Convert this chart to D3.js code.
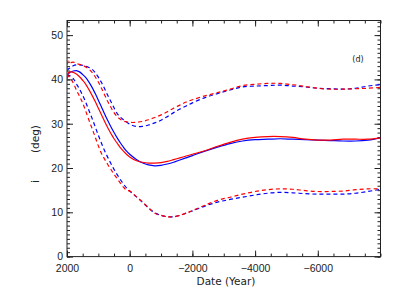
<!DOCTYPE html>
<html lang="en">
<head>
<meta charset="UTF-8">
<title>Inclination vs Date</title>
<script src="https://d3js.org/d3.v7.min.js"></script>
<style>
    body { margin: 0; background: #fff; }
    svg { display: block; font-family: "DejaVu Sans", Verdana, sans-serif; }
    .axis text { font-size: 10.5px; fill: #222; }
    .axis line, .axis path { stroke: #222; }
</style>
</head>
<body>
<div id="chart"></div>
<script>
    // Years (x) shared by all curves
    const years = [2000, 1960, 1900, 1800, 1700, 1600, 1500, 1400, 1300, 1200, 1100, 1000, 900, 800, 700, 600, 500, 400, 300, 200, 100,
        0, -200, -400, -600, -800, -1000, -1200, -1400, -1600, -1800, -2000, -2400, -2800, -3200, -3600, -4000, -4400, -4800,
        -5200, -5600, -6000, -6400, -6800, -7200, -7600, -8000];

    // upper dashed (red / blue)
    const upperRed = [40.2, 44.2, 43.8, 43.9, 43.6, 43.4, 43.2, 42.8, 42.3, 41.6, 40.6, 39.4, 38.0, 36.5, 35.0, 33.7, 32.5, 31.6, 31.0, 30.6, 30.4,
        30.3, 30.3, 30.5, 30.9, 31.4, 32.0, 32.7, 33.5, 34.2, 34.9, 35.4, 36.3, 37.0, 37.8, 38.6, 38.9, 39.1, 39.1,
        38.8, 38.4, 38.0, 37.8, 37.8, 37.9, 38.0, 38.2];
    const upperBlue = [42.0, 42.3, 42.6, 43.1, 43.3, 43.3, 43.2, 43.0, 42.7, 42.3, 41.5, 40.5, 39.3, 37.9, 36.4, 35.0, 33.6, 32.3, 31.5, 30.9, 30.4,
        29.9, 29.4, 29.4, 29.7, 30.2, 30.8, 31.6, 32.5, 33.3, 34.0, 34.7, 35.9, 36.8, 37.6, 38.3, 38.5, 38.6, 38.7,
        38.5, 38.3, 38.0, 37.9, 37.8, 38.0, 38.5, 38.8];

    // middle solid (red / blue)
    const midRed = [39.8, 41.5, 41.7, 41.6, 41.2, 40.6, 39.8, 38.9, 37.7, 36.4, 35.0, 33.5, 32.0, 30.5, 29.1, 27.8, 26.6, 25.6, 24.6, 23.8, 23.1,
        22.5, 21.7, 21.3, 21.1, 21.1, 21.2, 21.5, 21.9, 22.3, 22.7, 23.1, 23.9, 24.9, 25.8, 26.5, 26.9, 27.1, 27.1,
        26.9, 26.5, 26.3, 26.3, 26.5, 26.5, 26.5, 26.8];
    const midBlue = [40.8, 41.2, 41.6, 41.9, 42.0, 41.7, 41.1, 40.4, 39.4, 38.2, 36.8, 35.3, 33.8, 32.2, 30.7, 29.3, 28.0, 26.8, 25.7, 24.7, 23.8,
        23.1, 22.0, 21.2, 20.7, 20.5, 20.6, 20.9, 21.3, 21.8, 22.3, 22.8, 23.8, 24.7, 25.5, 26.1, 26.4, 26.5, 26.6,
        26.5, 26.4, 26.3, 26.2, 26.1, 26.1, 26.3, 26.8];

    // lower dashed (red / blue)
    const lowerRed = [41.2, 40.8, 40.3, 39.2, 37.6, 36.2, 34.7, 32.8, 30.8, 28.9, 27.0, 25.0, 23.3, 22.0, 20.8, 19.7, 18.6, 17.6, 16.6, 15.7, 15.0,
        14.8, 13.6, 12.4, 11.0, 9.8, 9.3, 9.0, 9.0, 9.3, 9.8, 10.4, 11.6, 12.7, 13.4, 14.1, 14.7, 15.1, 15.3,
        15.2, 14.9, 14.7, 14.7, 14.8, 15.1, 15.3, 15.3];
    const lowerBlue = [40.5, 40.7, 40.8, 40.2, 39.0, 37.8, 36.4, 34.8, 33.0, 31.2, 29.3, 27.4, 25.6, 23.9, 22.4, 21.0, 19.7, 18.5, 17.4, 16.4, 15.5,
        14.8, 13.6, 12.3, 11.0, 9.9, 9.3, 9.0, 9.0, 9.3, 9.8, 10.3, 11.4, 12.3, 12.9, 13.4, 13.9, 14.3, 14.5,
        14.4, 14.2, 14.1, 14.1, 14.1, 14.3, 14.7, 15.2];

    const xTicks = [2000, 0, -2000, -4000, -6000];
    const yTicks = [0, 10, 20, 30, 40, 50];

    const width = 399, height = 299;
    const mLeft = 67, mRight = 380.5, mTop = 20.5, mBottom = 256.6;

    const svg = d3.select("#chart").append("svg")
        .attr("width", width)
        .attr("height", height);

    const x = d3.scaleLinear().domain([2000, -8000]).range([mLeft, mRight]);
    const y = d3.scaleLinear().domain([0, 53.3]).range([mBottom, mTop]);

    const minus = d => d3.format("d")(d).replace("-", "\u2212");

    svg.append("defs").append("clipPath").attr("id", "clip")
        .append("rect").attr("x", mLeft).attr("y", mTop)
        .attr("width", mRight - mLeft).attr("height", mBottom - mTop);

    // minor ticks
    const xMinor = d3.range(2000, -8001, -500);
    const yMinor = d3.range(0, 54, 1);
    const minor = (axis, vals, tr) => svg.append("g").attr("class", "axis")
        .attr("transform", tr)
        .call(axis.tickValues(vals).tickSize(-3).tickFormat(""))
        .call(g => g.select(".domain").remove());
    minor(d3.axisBottom(x), xMinor, `translate(0,${mBottom})`);
    minor(d3.axisTop(x), xMinor, `translate(0,${mTop})`);
    minor(d3.axisLeft(y), yMinor, `translate(${mLeft},0)`);
    minor(d3.axisRight(y), yMinor, `translate(${mRight},0)`);

    // major ticks + labels
    svg.append("g").attr("class", "axis")
        .attr("transform", `translate(0,${mBottom})`)
        .call(d3.axisBottom(x).tickValues(xTicks).tickSize(-6).tickPadding(8.4).tickFormat(minus))
        .call(g => g.select(".domain").remove());
    svg.append("g").attr("class", "axis")
        .attr("transform", `translate(0,${mTop})`)
        .call(d3.axisTop(x).tickValues(xTicks).tickSize(-6).tickFormat(""))
        .call(g => g.select(".domain").remove());
    svg.append("g").attr("class", "axis")
        .attr("transform", `translate(${mLeft},0)`)
        .call(d3.axisLeft(y).tickValues(yTicks).tickSize(-6).tickPadding(4))
        .call(g => g.select(".domain").remove());
    svg.append("g").attr("class", "axis")
        .attr("transform", `translate(${mRight},0)`)
        .call(d3.axisRight(y).tickValues(yTicks).tickSize(-6).tickFormat(""))
        .call(g => g.select(".domain").remove());

    svg.append("rect")
        .attr("x", mLeft).attr("y", mTop)
        .attr("width", mRight - mLeft).attr("height", mBottom - mTop)
        .attr("fill", "none").attr("stroke", "#222").attr("stroke-width", 1);

    // curves
    const line = vals => d3.line()
        .x((d, i) => x(years[i]))
        .y(d => y(d))
        .curve(d3.curveCatmullRom)(vals);

    const series = [
        { v: upperBlue, c: "#0000ff", dash: "4,3" },
        { v: upperRed, c: "#ff0000", dash: "4,3" },
        { v: lowerBlue, c: "#0000ff", dash: "4,3" },
        { v: lowerRed, c: "#ff0000", dash: "4,3" },
        { v: midBlue, c: "#0000ff", dash: null },
        { v: midRed, c: "#ff0000", dash: null }
    ];

    svg.append("g").attr("clip-path", "url(#clip)")
        .selectAll("path")
        .data(series)
        .join("path")
        .attr("d", d => line(d.v))
        .attr("fill", "none")
        .attr("stroke", d => d.c)
        .attr("stroke-width", 1.2)
        .attr("stroke-dasharray", d => d.dash);

    // labels
    svg.append("text")
        .attr("x", 226).attr("y", 285)
        .attr("text-anchor", "middle")
        .attr("font-size", 10.5).attr("fill", "#222")
        .text("Date (Year)");

    const yLab = svg.append("text")
        .attr("transform", "translate(39,183) rotate(-90)")
        .attr("font-size", 10.5).attr("fill", "#222");
    yLab.append("tspan").text("i");
    yLab.append("tspan").attr("dx", 27).text("(deg)");

    svg.append("text")
        .attr("x", 358).attr("y", 61.5)
        .attr("text-anchor", "middle")
        .attr("font-size", 8).attr("fill", "#222")
        .text("(d)");
</script>
</body>
</html>
